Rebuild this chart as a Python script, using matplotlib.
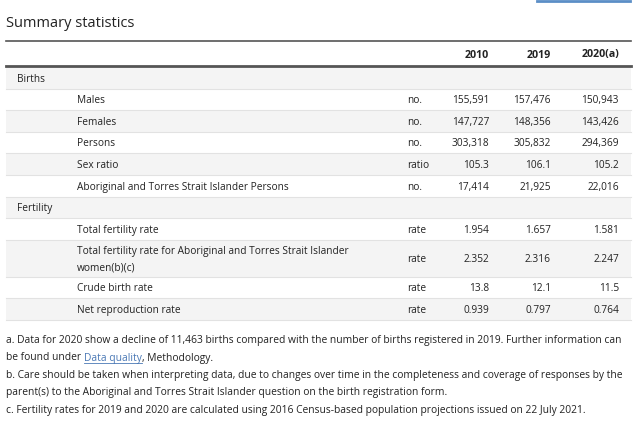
"""Summary statistics table rendered with matplotlib."""

import matplotlib

matplotlib.use("Agg")
from matplotlib import pyplot as plt

# Table content
years = ["2010", "2019", "2020(a)"]
row_labels = [
    "Births",
    "Males",
    "Females",
    "Persons",
    "Sex ratio",
    "Aboriginal and Torres Strait Islander Persons",
    "Fertility",
    "Total fertility rate",
    "Total fertility rate for Aboriginal and Torres Strait Islander\nwomen(b)(c)",
    "Crude birth rate",
    "Net reproduction rate",
]
units = ["", "no.", "no.", "no.", "ratio", "no.", "", "rate", "rate", "rate", "rate"]
values_2010 = ["", "155,591", "147,727", "303,318", "105.3", "17,414", "", "1.954", "2.352", "13.8", "0.939"]
values_2019 = ["", "157,476", "148,356", "305,832", "106.1", "21,925", "", "1.657", "2.316", "12.1", "0.797"]
values_2020 = ["", "150,943", "143,426", "294,369", "105.2", "22,016", "", "1.581", "2.247", "11.5", "0.764"]
footnotes = [
    "a. Data for 2020 show a decline of 11,463 births compared with the number of births registered in 2019. Further information can",
    "be found under ",
    "b. Care should be taken when interpreting data, due to changes over time in the completeness and coverage of responses by the",
    "parent(s) to the Aboriginal and Torres Strait Islander question on the birth registration form.",
    "c. Fertility rates for 2019 and 2020 are calculated using 2016 Census-based population projections issued on 22 July 2021.",
]
link_text = "Data quality"
link_tail = ", Methodology."

plt.rcParams["font.family"] = ["Open Sans", "DejaVu Sans"]
TEXT = "#222222"
GREY = "#f4f4f4"
LINK = "#4a78b5"
FS = 7.3
FOOT_FS = 7.4

fig = plt.figure(figsize=(6.4, 4.22), dpi=100, facecolor="white")
ax = fig.add_axes([0, 0, 1, 1])
ax.set_xlim(0, 640)
ax.set_ylim(422, 0)
ax.axis("off")

# Title and rules
ax.text(6, 27, "Summary statistics", fontsize=10.5, color=TEXT, va="baseline", ha="left")
ax.plot([6, 631], [41, 41], color="#555555", lw=1.2)
ax.plot([537, 630], [0.5, 0.5], color="#5b8ec6", lw=2)

# Header
year_right = [489, 551, 619]
for x, year in zip(year_right, years):
    ax.text(x, 57.5, year, fontsize=FS + 0.4, weight="bold", ha="right", va="baseline", color=TEXT)
ax.plot([6, 631], [66, 66], color="#555555", lw=2)

# Rows
top = 67
for i, label in enumerate(row_labels):
    height = 37 if "\n" in label else 21.6
    if i % 2 == 0:
        ax.axhspan(top, top + height, xmin=6 / 640, xmax=631 / 640, color=GREY, lw=0)
    ax.plot([6, 631], [top + height, top + height], color="#e2e2e2", lw=0.8)
    base = top + height / 2 + 3.8
    is_group = units[i] == ""
    if "\n" in label:
        lines = label.split("\n")
        ax.text(77, base - 8.5, lines[0], fontsize=FS, ha="left", va="baseline", color=TEXT)
        ax.text(77, base + 8.5, lines[1], fontsize=FS, ha="left", va="baseline", color=TEXT)
    else:
        ax.text(17 if is_group else 77, base, label, fontsize=FS, ha="left", va="baseline", color=TEXT)
    ax.text(407, base, units[i], fontsize=FS, ha="left", va="baseline", color=TEXT)
    for x, col in zip(year_right, [values_2010, values_2019, values_2020]):
        ax.text(x, base, col[i], fontsize=FS, ha="right", va="baseline", color=TEXT)
    top += height

# Footnotes
foot_base = [343, 360.5, 378, 395.5, 413]
for y, note in zip(foot_base, footnotes):
    ax.text(6, y, note, fontsize=FOOT_FS, ha="left", va="baseline", color=TEXT)

# Link text continues the second footnote line
renderer = fig.canvas.get_renderer()
inv = ax.transData.inverted()
lead = ax.texts[-4]
lx = inv.transform((lead.get_window_extent(renderer).x1, 0))[0]
link = ax.text(lx, foot_base[1], link_text, fontsize=FOOT_FS, ha="left", va="baseline", color=LINK)
rx = inv.transform((link.get_window_extent(renderer).x1, 0))[0]
ax.plot([lx, rx], [foot_base[1] + 2, foot_base[1] + 2], color=LINK, lw=0.6)
ax.text(rx, foot_base[1], link_tail, fontsize=FOOT_FS, ha="left", va="baseline", color=TEXT)

fig.savefig("out.png", dpi=100, facecolor="white")
